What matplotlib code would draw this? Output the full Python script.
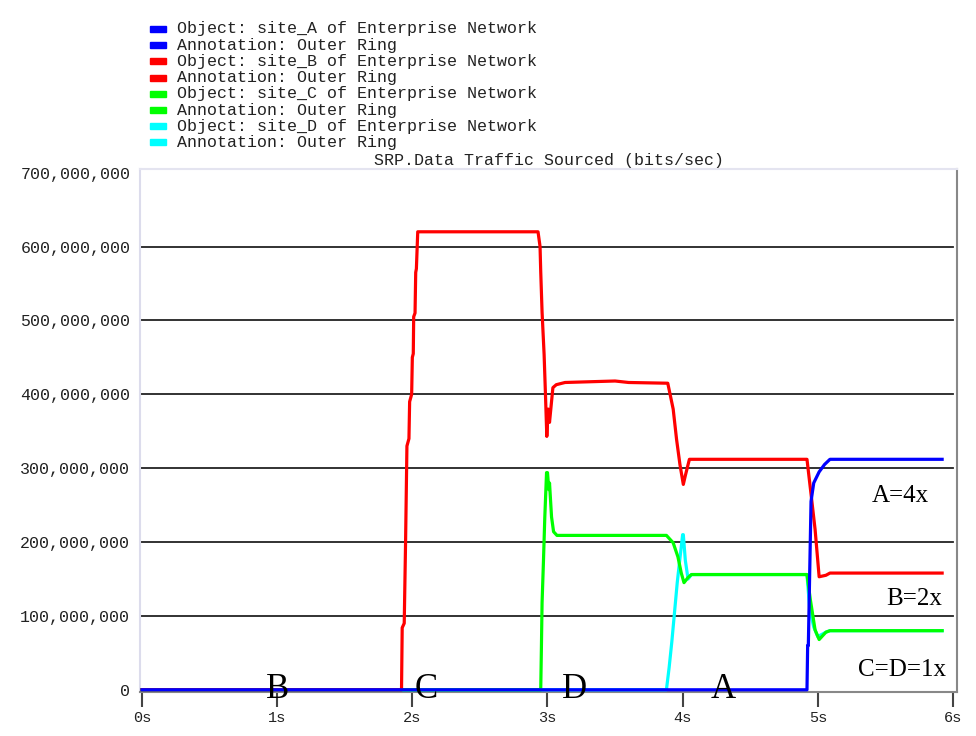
import matplotlib
matplotlib.use("Agg")
import matplotlib.pyplot as plt
from matplotlib.patches import Rectangle
from matplotlib.ticker import FuncFormatter

# ---- data (time in s, traffic in Mbit/s) ----
red_t = [0, 1.92, 1.925, 1.94, 1.95, 1.96, 1.975, 1.98, 1.995, 2.0, 2.007, 2.01, 2.02, 2.025, 2.03, 2.04,
         2.93, 2.945, 2.95, 2.96, 2.975, 2.985, 2.995, 3.005, 3.015, 3.04, 3.065, 3.13, 3.5, 3.6,
         3.89, 3.93, 3.955, 3.98, 4.005, 4.02, 4.05, 4.92, 4.955, 4.98, 5.01, 5.06, 5.09, 5.92]
red_v = [0, 0, 84, 90, 200, 330, 340, 390, 400, 450, 455, 505, 510, 565, 570, 620,
         620, 600, 566, 511, 454, 400, 343, 380, 362, 409, 413, 416, 418, 416,
         415, 380, 339, 305, 278, 290, 312, 312, 257, 217, 153, 155, 158, 158]

green_t = [0, 2.95, 2.955, 2.96, 2.97, 2.98, 2.993, 3.0, 3.01, 3.015, 3.03, 3.045, 3.07, 3.2,
           3.88, 3.93, 3.965, 3.99, 4.01, 4.04, 4.065, 4.92, 4.945, 4.98, 5.01, 5.06, 5.09, 5.92]
green_v = [0, 0, 57, 118, 173, 233, 294, 294, 271, 280, 234, 214, 209, 209,
           209, 199, 180, 158, 145, 152, 156, 156, 122, 81, 68, 78, 80, 80]

cyan_t = [0, 3.88, 3.9, 3.92, 3.94, 3.96, 3.98, 4.0, 4.005, 4.02, 4.04, 4.065,
          4.92, 4.94, 4.97, 5.0, 5.06, 5.09, 5.92]
cyan_v = [0, 0, 30, 65, 105, 145, 178, 210, 210, 175, 150, 156,
          156, 110, 85, 72, 78, 80, 80]

blue_t = [0, 4.92, 4.925, 4.93, 4.95, 4.97, 5.01, 5.05, 5.09, 5.92]
blue_v = [0, 0, 60, 60, 255, 280, 295, 305, 312, 312]

legend_labels = [
    "Object: site_A of Enterprise Network", "Annotation: Outer Ring",
    "Object: site_B of Enterprise Network", "Annotation: Outer Ring",
    "Object: site_C of Enterprise Network", "Annotation: Outer Ring",
    "Object: site_D of Enterprise Network", "Annotation: Outer Ring",
]
legend_colors = ["#0000ff", "#0000ff", "#ff0000", "#ff0000",
                 "#00ff00", "#00ff00", "#00ffff", "#00ffff"]

yticks = [0, 100e6, 200e6, 300e6, 400e6, 500e6, 600e6, 700e6]
xticks = [0, 1, 2, 3, 4, 5, 6]
xtick_labels = ["0s", "1s", "2s", "3s", "4s", "5s", "6s"]

event_labels = ["B", "C", "D", "A"]
event_x = [1.0, 2.1, 3.2, 4.3]
ratio_labels = ["A=4x", "B=2x", "C=D=1x"]

W, H = 976, 736
fig = plt.figure(figsize=(W / 100, H / 100), dpi=100)
ax = fig.add_axes([140 / W, 1 - 692 / H, (957 - 140) / W, (692 - 169) / H])

mono = "Liberation Mono"
serif = "Liberation Serif"

ax.set_xlim(-0.015, 6.03)
ax.set_ylim(-3e6, 705e6)

for y in yticks[1:-1]:
    ax.axhline(y, xmax=0.995, color="#222222", lw=1.3, zorder=1)

lw = 2.3
ax.plot(cyan_t, [v * 1e6 for v in cyan_v], color="#00ffff", lw=lw, zorder=3)
ax.plot(green_t, [v * 1e6 for v in green_v], color="#00ff00", lw=lw, zorder=4)
ax.plot(red_t, [v * 1e6 for v in red_v], color="#ff0000", lw=lw, zorder=5)
ax.plot(blue_t, [v * 1e6 for v in blue_v], color="#0000ff", lw=lw, zorder=6)

ax.set_yticks(yticks)
ax.yaxis.set_major_formatter(FuncFormatter(lambda v, p: f"{int(round(v)):,}"))
ax.tick_params(axis="y", length=0, pad=7, labelsize=12, labelcolor="#222222")
ax.set_xticks(xticks)
ax.set_xticklabels(xtick_labels)
ax.tick_params(axis="x", length=11, width=1.5, color="#444444", pad=3,
               labelsize=11, labelcolor="#222222", direction="out")
for lab in ax.get_yticklabels() + ax.get_xticklabels():
    lab.set_fontfamily(mono)

ax.spines["left"].set_color("#dcdcec")
ax.spines["top"].set_color("#e4e4f0")
ax.spines["right"].set_color("#888888")
ax.spines["bottom"].set_color("#888888")
for s in ax.spines.values():
    s.set_linewidth(1.5)

ax.set_title("SRP.Data Traffic Sourced (bits/sec)", fontfamily=mono, fontsize=12,
             color="#222222", pad=3)

# legend
y0 = 29
for i, (lab, col) in enumerate(zip(legend_labels, legend_colors)):
    yc = y0 + i * 16.2
    fig.patches.append(Rectangle((150 / W, 1 - (yc + 3) / H), 16 / W, 6 / H,
                                 transform=fig.transFigure, color=col))
    fig.text(177 / W, 1 - yc / H, lab, fontfamily=mono, fontsize=12,
             va="center", ha="left", color="#222222")

# event annotations along bottom
for lab, xv in zip(event_labels, event_x):
    ax.text(xv, 0, lab, fontfamily=serif, fontsize=25, ha="center", va="center",
            color="black", zorder=8)

# ratio labels on right
ax.text(5.61, 262e6, ratio_labels[0], fontfamily=serif, fontsize=18, ha="center", va="center")
ax.text(5.71, 123e6, ratio_labels[1], fontfamily=serif, fontsize=18, ha="center", va="center")
ax.text(5.62, 27e6, ratio_labels[2], fontfamily=serif, fontsize=18, ha="center", va="center")

fig.savefig("out.png", dpi=100)
